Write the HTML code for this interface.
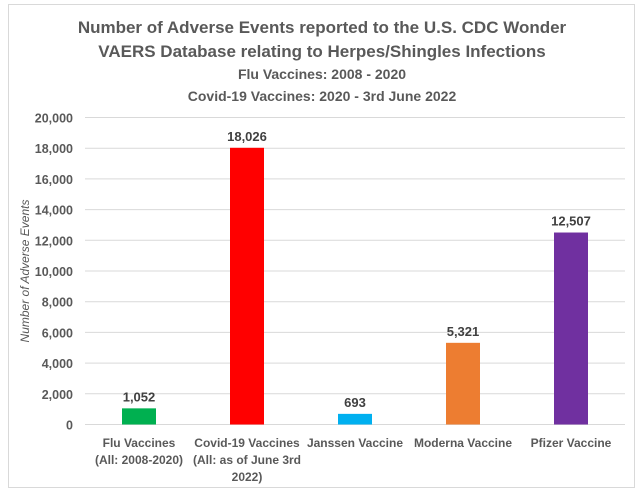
<!DOCTYPE html>
<html><head><meta charset="utf-8"><style>
body{margin:0;background:#fff;}
svg{display:block;font-family:"Liberation Sans",Calibri,sans-serif;}
</style></head><body>
<svg id="chart" width="640" height="496" xmlns="http://www.w3.org/2000/svg">
<rect x="8.5" y="4.5" width="626" height="483" fill="#fff" stroke="#d9d9d9"/>
<g fill="#595959" font-weight="bold" text-anchor="middle">
<text x="322" y="33" font-size="17">Number of Adverse Events reported to the U.S. CDC Wonder</text>
<text x="322" y="57" font-size="17">VAERS Database relating to Herpes/Shingles Infections</text>
<text x="322" y="79" font-size="14">Flu Vaccines: 2008 - 2020</text>
<text x="322" y="101" font-size="14">Covid-19 Vaccines: 2020 - 3rd June 2022</text>
</g>
<text transform="translate(29,271) rotate(-90)" text-anchor="middle" font-size="12" font-style="italic" fill="#595959">Number of Adverse Events</text>
<g id="grid"></g><g id="bars"></g><g id="labels"></g>
</svg>
<script>
const categories=[["Flu Vaccines","(All: 2008-2020)"],["Covid-19 Vaccines","(All: as of June 3rd","2022)"],["Janssen Vaccine"],["Moderna Vaccine"],["Pfizer Vaccine"]];
const values=[1052,18026,693,5321,12507];
const valueLabels=["1,052","18,026","693","5,321","12,507"];
const colors=["#00b050","#ff0000","#00b0f0","#ed7d31","#7030a0"];
const ticks=[0,2000,4000,6000,8000,10000,12000,14000,16000,18000,20000];
const tickLabels=["0","2,000","4,000","6,000","8,000","10,000","12,000","14,000","16,000","18,000","20,000"];
const NS="http://www.w3.org/2000/svg";
const x0=85,x1=625,y0=424.5,yTop=117.5,yMax=20000;
const y=v=>y0-(v/yMax)*(y0-yTop);
const band=(x1-x0)/categories.length;
const xc=i=>x0+band*(i+0.5);
function mk(t,a,p){const e=document.createElementNS(NS,t);for(const k in a)e.setAttribute(k,a[k]);p.appendChild(e);return e;}
const grid=document.getElementById('grid'),bars=document.getElementById('bars'),labels=document.getElementById('labels');
ticks.forEach((t,i)=>{
const l=mk('line',{x1:x0,x2:x1,y1:y(t),y2:y(t),stroke:'#d9d9d9','stroke-width':1},grid);


const tx=mk('text',{x:73,y:y(t)+5,'text-anchor':'end','font-size':12.5,'font-weight':'bold',fill:'#595959'},grid);
tx.textContent=tickLabels[i];


});
values.forEach((v,i)=>{
const w=34;
const r=mk('rect',{x:xc(i)-w/2,y:y(v),width:w,height:y0-y(v),fill:colors[i]},bars);


const t=mk('text',{x:xc(i),y:y(v)-7,'text-anchor':'middle','font-size':13,'font-weight':'bold',fill:'#404040'},labels);
t.textContent=valueLabels[i];


categories[i].forEach((ln,j)=>{
const c=mk('text',{x:xc(i),y:447+j*17,'text-anchor':'middle','font-size':12,'font-weight':'bold',fill:'#595959'},labels);
c.textContent=ln;


});
});
</script>
</body></html>
